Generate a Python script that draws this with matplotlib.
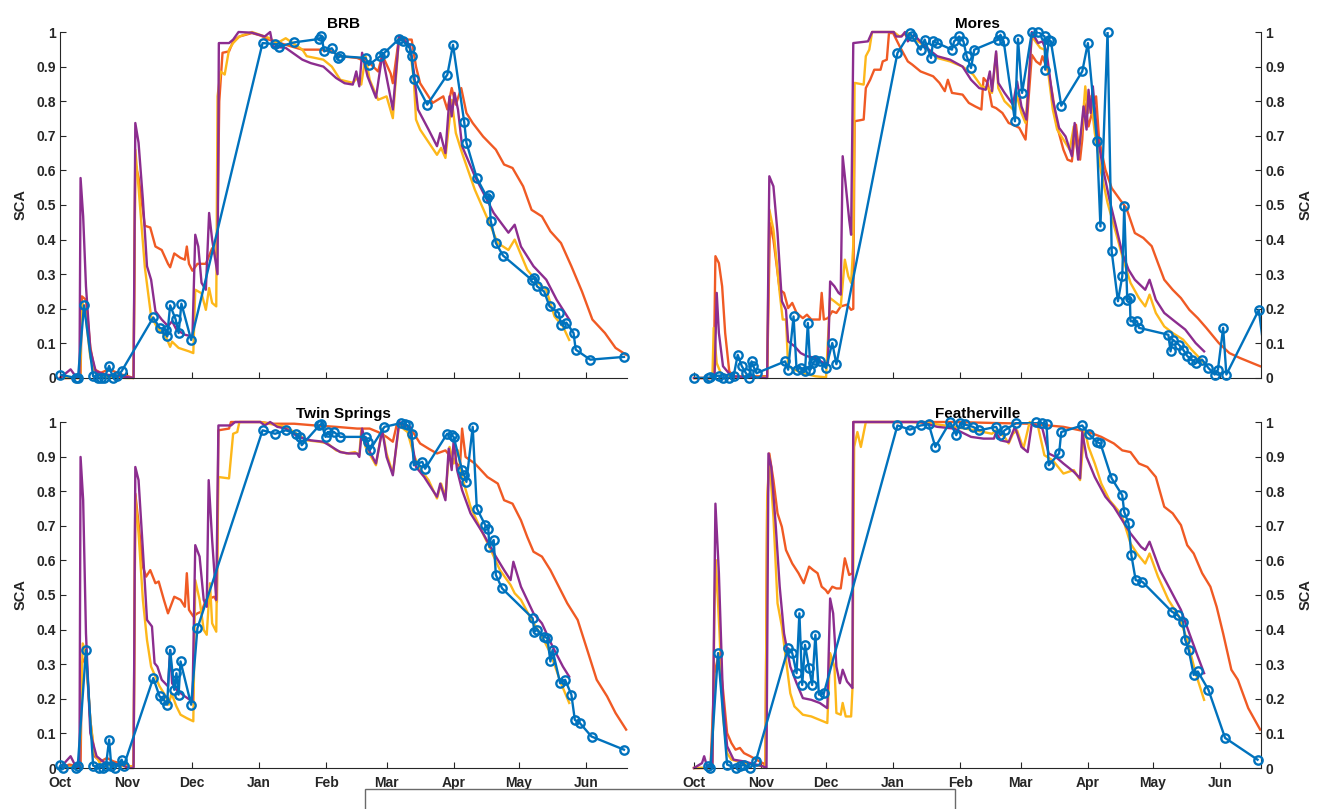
"""
Snow covered area (SCA) for four sites, observed vs. three model runs.
Days are counted from 1 October (water-year day).
"""

import matplotlib

matplotlib.use("Agg")
import matplotlib.pyplot as plt
import numpy as np
from matplotlib.patches import Rectangle

plt.rcParams["font.family"] = ["Liberation Sans", "DejaVu Sans"]

# month ticks (day of water year) and labels
month_days = [0, 31, 61, 92, 123, 151, 182, 212, 243]
month_labels = ["Oct", "Nov", "Dec", "Jan", "Feb", "Mar", "Apr", "May", "Jun"]
sca_ticks = [0, 0.1, 0.2, 0.3, 0.4, 0.5, 0.6, 0.7, 0.8, 0.9, 1.0]
sca_tick_labels = ["0", "0.1", "0.2", "0.3", "0.4", "0.5", "0.6", "0.7", "0.8", "0.9", "1"]

site_names = ["BRB", "Mores", "Twin Springs", "Featherville"]

# ---- BRB ----
brb_obs = [(0, 0.01), (7.2, 0.0), (8.3, 0.0), (11.1, 0.21), (15.3, 0.005), (17.5, 0.0), (19.0, 0.0),
           (20.5, 0.0), (22.7, 0.035), (24.5, 0.0), (26.5, 0.005), (28.5, 0.02), (43.1, 0.175),
           (46.0, 0.145), (48.9, 0.14), (49.5, 0.12), (50.9, 0.21), (53.4, 0.17), (54.8, 0.13),
           (56.1, 0.215), (60.6, 0.11), (93.6, 0.968), (99.4, 0.965), (101.4, 0.958), (108.2, 0.97),
           (119.8, 0.98), (120.8, 0.987), (122.1, 0.944), (125.6, 0.953), (128.5, 0.925), (129.5, 0.93),
           (141.2, 0.925), (142.7, 0.905), (148.0, 0.93), (149.9, 0.94), (156.7, 0.98), (158.6, 0.973),
           (161.6, 0.954), (162.5, 0.93), (163.5, 0.864), (169.7, 0.79), (179.0, 0.877), (181.6, 0.963),
           (186.8, 0.739), (187.8, 0.68), (192.6, 0.578), (197.5, 0.52), (198.4, 0.53), (199.0, 0.455),
           (201.4, 0.39), (204.7, 0.354), (217.9, 0.284), (219.2, 0.29), (220.4, 0.265), (223.7, 0.25),
           (226.2, 0.207), (230.5, 0.188), (231.5, 0.154), (234.0, 0.16), (237.3, 0.13), (238.3, 0.082),
           (245.0, 0.053), (260.6, 0.061)]
brb_orange = [(0, 0), (8.2, 0), (9.5, 0.0), (10.1, 0.236), (12.0, 0.226), (14.0, 0.09), (15.9, 0.025),
              (18.8, 0.015), (22.7, 0.025), (28.5, 0.01), (31.5, 0.005), (34.0, 0.0), (34.8, 0.62),
              (36.3, 0.58), (39.2, 0.44), (41.7, 0.435), (44.1, 0.38), (47.0, 0.37), (49.9, 0.33),
              (50.9, 0.32), (52.8, 0.36), (55.7, 0.347), (57.7, 0.342), (58.6, 0.38), (59.6, 0.33),
              (61.2, 0.31), (63.5, 0.33), (67.4, 0.33), (70.3, 0.375), (72.2, 0.35), (72.8, 0.45),
              (73.6, 0.8), (75.1, 0.94), (78.1, 0.944), (80.0, 0.973), (82.9, 0.987), (88.7, 0.997),
              (92.6, 0.99), (96.5, 0.978), (104.3, 0.963), (112.0, 0.949), (119.8, 0.949), (125.6, 0.944),
              (129.5, 0.93), (137.3, 0.925), (143.1, 0.91), (147.0, 0.886), (148.9, 0.934), (152.8, 0.88),
              (153.8, 0.852), (156.7, 0.987), (160.6, 0.978), (162.5, 0.978), (164.5, 0.9), (166.4, 0.852),
              (172.2, 0.795), (177.1, 0.814), (179.0, 0.776), (181.0, 0.838), (182.9, 0.79), (185.4, 0.838),
              (187.8, 0.766), (190.7, 0.737), (195.5, 0.698), (201.4, 0.66), (205.2, 0.617), (209.1, 0.607),
              (214.0, 0.554), (217.9, 0.486), (222.7, 0.467), (226.6, 0.424), (231.5, 0.39), (236.3, 0.323),
              (241.2, 0.25), (246.0, 0.169), (251.8, 0.13), (256.7, 0.087), (261.6, 0.067)]
brb_yellow = [(0, 0), (9.3, 0), (10.1, 0.22), (11.5, 0.2), (14.0, 0.06), (15.9, 0.02), (18.8, 0.005),
              (30.5, 0.0), (34.0, 0.0), (34.8, 0.66), (36.3, 0.55), (39.2, 0.32), (42.1, 0.178), (45.0, 0.145),
              (48.9, 0.12), (50.9, 0.09), (51.8, 0.105), (54.8, 0.087), (59.6, 0.077), (61.6, 0.072),
              (62.5, 0.255), (65.4, 0.245), (67.4, 0.197), (68.9, 0.26), (70.3, 0.217), (72.2, 0.207),
              (72.8, 0.814), (74.2, 0.886), (76.1, 0.877), (78.1, 0.949), (80.0, 0.968), (82.9, 0.987),
              (88.7, 1.0), (96.5, 0.983), (100.4, 0.968), (104.3, 0.982), (112.0, 0.949), (114.0, 0.93),
              (121.7, 0.92), (125.6, 0.9), (129.5, 0.862), (135.3, 0.853), (137.3, 0.867), (139.2, 0.848),
              (141.2, 0.93), (143.1, 0.862), (147.0, 0.804), (150.9, 0.814), (153.8, 0.751), (156.7, 0.987),
              (161.6, 0.958), (163.5, 0.862), (164.5, 0.747), (166.4, 0.718), (174.2, 0.645), (176.1, 0.665),
              (178.1, 0.636), (181.0, 0.804), (182.9, 0.708), (185.8, 0.65), (191.7, 0.544), (198.4, 0.448),
              (202.3, 0.39), (207.2, 0.37), (210.1, 0.4), (215.9, 0.313), (220.8, 0.275), (224.7, 0.255),
              (228.5, 0.178), (232.4, 0.149), (235.3, 0.11)]
brb_purple = [(0, 0), (4.9, 0.025), (7.2, 0.005), (9.0, 0.0), (9.5, 0.578), (10.7, 0.467), (12.0, 0.265),
              (14.0, 0.082), (16.5, 0.02), (20.8, 0.01), (30.5, 0.003), (34.0, 0.0), (34.8, 0.737),
              (36.3, 0.68), (38.3, 0.515), (40.2, 0.323), (42.1, 0.284), (44.1, 0.193), (47.0, 0.169),
              (49.9, 0.15), (51.8, 0.164), (53.8, 0.14), (57.7, 0.125), (61.2, 0.12), (62.5, 0.414),
              (63.9, 0.38), (65.4, 0.275), (67.4, 0.255), (68.9, 0.477), (70.3, 0.4), (72.8, 0.3),
              (73.4, 0.968), (78.1, 0.968), (80.0, 0.978), (82.5, 1.0), (88.7, 0.998), (94.6, 0.987),
              (97.1, 1.0), (98.4, 0.958), (104.3, 0.954), (112.0, 0.92), (115.9, 0.91), (121.7, 0.9),
              (127.6, 0.867), (131.5, 0.852), (135.3, 0.848), (136.9, 0.886), (138.3, 0.843), (139.6, 0.94),
              (142.1, 0.872), (146.0, 0.81), (148.9, 0.934), (153.8, 0.776), (156.7, 0.987), (161.6, 0.963),
              (163.5, 0.886), (165.4, 0.776), (170.3, 0.718), (174.2, 0.67), (175.7, 0.708), (178.1, 0.65),
              (180.0, 0.814), (181.0, 0.756), (182.3, 0.824), (183.9, 0.776), (185.8, 0.67), (191.7, 0.583),
              (200.4, 0.477), (207.2, 0.42), (210.1, 0.443), (213.0, 0.38), (218.8, 0.323), (224.7, 0.284),
              (229.5, 0.226), (235.3, 0.169)]

# ---- Mores ----
mores_obs = [(0, 0.0), (6.6, 0.0), (7.6, 0.002), (11.5, 0.007), (13.4, 0.0), (16.3, 0.0), (18.3, 0.005),
             (20.2, 0.067), (22.1, 0.034), (24.0, 0.014), (25.4, 0.0), (26.6, 0.048), (27.4, 0.034),
             (28.9, 0.014), (42.1, 0.048), (43.5, 0.024), (46.0, 0.178), (47.4, 0.024), (49.3, 0.029),
             (51.3, 0.019), (52.6, 0.159), (53.8, 0.024), (55.1, 0.043), (56.1, 0.053), (58.1, 0.048),
             (61.0, 0.029), (63.9, 0.101), (65.8, 0.04), (94.0, 0.939), (99.8, 0.997), (100.8, 0.987),
             (104.7, 0.949), (106.6, 0.978), (109.5, 0.925), (110.5, 0.973), (112.4, 0.968), (119.2, 0.949),
             (120.2, 0.973), (122.5, 0.987), (124.5, 0.973), (126.0, 0.93), (128.0, 0.896), (129.5, 0.949),
             (140.6, 0.978), (141.6, 0.992), (143.1, 0.973), (148.3, 0.742), (149.7, 0.98), (151.6, 0.824),
             (156.1, 0.999), (159.0, 1.0), (162.0, 0.987), (162.3, 0.891), (164.0, 0.978), (164.9, 0.973),
             (169.7, 0.787), (179.4, 0.886), (182.0, 0.968), (186.2, 0.684), (187.8, 0.438), (191.1, 1.0),
             (193.0, 0.366), (195.9, 0.222), (197.9, 0.294), (198.8, 0.496), (200.2, 0.226), (201.4, 0.231),
             (201.7, 0.164), (204.7, 0.164), (205.6, 0.145), (219.2, 0.125), (220.2, 0.077), (221.2, 0.111),
             (224.1, 0.096), (226.0, 0.082), (228.0, 0.063), (229.9, 0.053), (231.8, 0.043), (234.8, 0.053),
             (237.7, 0.029), (240.6, 0.01), (242.1, 0.024), (244.5, 0.145), (246.0, 0.01), (261.0, 0.197),
             (265.0, 0.0)]
mores_orange = [(0, 0), (9.1, 0), (9.9, 0.352), (11.5, 0.332), (13.0, 0.265), (14.4, 0.13), (16.3, 0.019),
                (18.3, 0.005), (33.8, 0.005), (35.1, 0.448), (36.7, 0.4), (39.6, 0.255), (41.6, 0.246),
                (43.5, 0.202), (45.4, 0.217), (47.4, 0.188), (50.3, 0.173), (52.2, 0.183), (54.2, 0.169),
                (58.1, 0.169), (59.0, 0.246), (60.0, 0.169), (61.9, 0.173), (63.9, 0.193), (65.8, 0.188),
                (67.8, 0.207), (70.7, 0.212), (72.6, 0.197), (73.6, 0.2), (74.2, 0.742), (78.4, 0.747),
                (79.4, 0.838), (81.4, 0.862), (83.3, 0.891), (86.2, 0.891), (87.2, 0.915), (89.1, 0.92),
                (90.1, 0.997), (92.0, 0.997), (95.0, 0.959), (98.8, 0.915), (100.8, 0.906), (104.7, 0.886),
                (110.5, 0.872), (113.4, 0.853), (115.9, 0.829), (117.3, 0.862), (119.2, 0.824), (124.1, 0.819),
                (127.0, 0.795), (129.9, 0.785), (132.8, 0.776), (133.8, 0.867), (135.7, 0.853), (137.7, 0.785),
                (139.6, 0.78), (142.5, 0.766), (145.4, 0.737), (147.4, 0.732), (150.3, 0.723), (153.2, 0.689),
                (156.1, 0.934), (158.1, 0.915), (160.0, 0.906), (161.0, 0.93), (163.9, 0.882), (165.8, 0.814),
                (167.8, 0.727), (170.7, 0.66), (172.6, 0.631), (174.6, 0.626), (176.5, 0.732), (178.4, 0.631),
                (179.4, 0.689), (180.4, 0.795), (182.3, 0.727), (185.8, 0.814), (187.2, 0.689), (190.1, 0.602),
                (193.0, 0.549), (196.9, 0.515), (199.8, 0.491), (203.7, 0.419), (207.6, 0.405), (211.5, 0.381),
                (214.4, 0.332), (217.3, 0.284), (221.2, 0.255), (225.0, 0.231), (228.9, 0.197), (232.8, 0.173),
                (236.7, 0.145), (242.5, 0.101), (247.4, 0.072), (252.2, 0.058), (256.1, 0.048), (261.6, 0.034)]
mores_yellow = [(0, 0), (8.5, 0), (9.1, 0.145), (10.5, 0.043), (12.4, 0.014), (15.5, 0.005), (33.8, 0.002),
                (34.8, 0.487), (36.7, 0.429), (39.6, 0.246), (41.0, 0.169), (42.5, 0.169), (43.5, 0.034),
                (46.4, 0.024), (50.3, 0.014), (56.1, 0.005), (61.0, 0.002), (62.9, 0.231), (65.8, 0.217),
                (67.8, 0.207), (69.7, 0.342), (71.3, 0.294), (72.6, 0.275), (73.6, 0.385), (74.2, 0.853),
                (78.4, 0.848), (79.4, 0.93), (81.0, 0.949), (82.3, 1.0), (92.3, 1.0), (95.0, 0.987),
                (98.8, 0.997), (100.8, 0.983), (104.7, 0.968), (112.4, 0.925), (118.3, 0.915), (124.1, 0.9),
                (129.0, 0.877), (132.8, 0.843), (135.7, 0.838), (137.7, 0.824), (139.6, 0.939), (140.6, 0.838),
                (143.5, 0.8), (147.4, 0.776), (149.3, 0.814), (151.3, 0.766), (153.2, 0.737), (156.1, 0.987),
                (160.0, 0.954), (162.0, 0.949), (163.9, 0.872), (165.8, 0.776), (167.8, 0.718), (170.7, 0.689),
                (173.6, 0.66), (175.5, 0.727), (177.5, 0.641), (179.4, 0.727), (180.8, 0.843), (182.0, 0.766),
                (183.3, 0.814), (185.2, 0.708), (188.2, 0.592), (191.1, 0.506), (195.0, 0.419), (197.9, 0.352),
                (201.7, 0.275), (205.6, 0.231), (208.5, 0.207), (210.5, 0.241), (213.4, 0.188), (217.3, 0.149),
                (221.2, 0.13), (226.0, 0.111), (229.9, 0.082), (232.8, 0.063), (235.7, 0.043)]
mores_purple = [(0, 0), (9.5, 0), (10.5, 0.246), (11.5, 0.13), (13.4, 0.034), (17.3, 0.005), (33.8, 0.0),
                (34.8, 0.583), (36.7, 0.554), (38.6, 0.419), (40.6, 0.222), (42.5, 0.197), (43.5, 0.106),
                (46.4, 0.092), (49.3, 0.072), (52.2, 0.063), (56.1, 0.058), (60.0, 0.043), (61.9, 0.043),
                (62.9, 0.279), (64.9, 0.265), (66.8, 0.246), (67.8, 0.241), (68.7, 0.641), (69.7, 0.583),
                (71.7, 0.458), (72.6, 0.414), (73.6, 0.968), (80.4, 0.973), (82.3, 1.0), (92.3, 1.0),
                (93.4, 0.987), (95.9, 0.987), (97.5, 1.0), (98.8, 0.973), (101.7, 0.992), (106.6, 0.959),
                (112.4, 0.93), (118.3, 0.92), (124.1, 0.9), (128.0, 0.862), (131.8, 0.838), (134.8, 0.833),
                (136.7, 0.886), (137.7, 0.829), (139.6, 0.944), (140.6, 0.853), (143.5, 0.824), (147.4, 0.79),
                (149.3, 0.857), (151.3, 0.785), (153.6, 0.747), (156.1, 1.0), (159.0, 0.968), (161.0, 0.973),
                (162.9, 0.944), (165.8, 0.804), (168.7, 0.723), (171.7, 0.698), (174.6, 0.641), (175.9, 0.737),
                (177.5, 0.631), (180.0, 0.785), (181.4, 0.718), (182.3, 0.833), (183.3, 0.766), (184.3, 0.843),
                (186.2, 0.708), (189.1, 0.602), (192.0, 0.515), (195.0, 0.438), (197.9, 0.361), (200.8, 0.313),
                (203.7, 0.284), (208.5, 0.255), (210.5, 0.284), (213.4, 0.226), (217.3, 0.188), (222.1, 0.164),
                (227.0, 0.14), (231.8, 0.101), (235.7, 0.077)]

# ---- Twin Springs ----
ts_obs = [(0, 0.01), (1.4, 0.0), (7.2, 0.0), (8.2, 0.005), (12.0, 0.341), (15.3, 0.007), (17.9, 0.0),
          (19.8, 0.0), (21.2, 0.005), (22.7, 0.082), (23.7, 0.005), (25.6, 0.0), (28.5, 0.024), (29.5, 0.007),
          (43.1, 0.26), (46.0, 0.207), (48.0, 0.197), (49.5, 0.183), (50.9, 0.341), (52.8, 0.226),
          (53.8, 0.274), (54.8, 0.212), (55.7, 0.308), (60.6, 0.183), (63.5, 0.404), (93.6, 0.976),
          (99.4, 0.966), (104.3, 0.976), (109.1, 0.966), (110.7, 0.957), (111.7, 0.933), (119.8, 0.99),
          (120.8, 0.995), (122.7, 0.957), (123.7, 0.971), (126.6, 0.971), (129.5, 0.957), (141.2, 0.957),
          (142.1, 0.943), (143.1, 0.918), (149.9, 0.986), (157.7, 0.997), (159.6, 0.995), (160.6, 0.99),
          (162.5, 0.966), (163.5, 0.875), (167.4, 0.885), (168.7, 0.865), (178.9, 0.966), (181.0, 0.962),
          (181.9, 0.957), (185.8, 0.861), (186.8, 0.846), (187.8, 0.827), (190.7, 0.986), (192.6, 0.75),
          (196.5, 0.702), (197.9, 0.692), (198.4, 0.639), (200.4, 0.659), (201.4, 0.558), (204.3, 0.519),
          (218.4, 0.433), (219.2, 0.394), (220.4, 0.399), (223.7, 0.38), (225.2, 0.375), (226.6, 0.308),
          (227.6, 0.341), (231.1, 0.245), (233.4, 0.255), (236.3, 0.212), (237.9, 0.139), (240.2, 0.13),
          (245.6, 0.091), (260.6, 0.053)]
ts_orange = [(0, 0), (4.3, 0.01), (8.2, 0.005), (9.5, 0.0), (10.1, 0.303), (12.0, 0.322), (14.0, 0.139),
             (15.9, 0.034), (18.8, 0.019), (21.7, 0.029), (24.7, 0.019), (27.6, 0.014), (30.5, 0.01),
             (32.4, 0.005), (34.0, 0.005), (34.8, 0.793), (36.3, 0.707), (38.3, 0.582), (39.8, 0.553),
             (41.7, 0.572), (44.1, 0.534), (45.6, 0.539), (48.0, 0.486), (49.9, 0.447), (52.8, 0.495),
             (55.7, 0.486), (57.7, 0.466), (58.6, 0.563), (59.6, 0.457), (61.6, 0.438), (63.5, 0.447),
             (65.4, 0.452), (67.4, 0.486), (71.3, 0.495), (72.5, 0.48), (73.2, 0.976), (78.1, 0.981),
             (79.0, 1.0), (92.6, 1.0), (98.4, 0.995), (108.2, 0.995), (117.9, 0.99), (127.6, 0.986),
             (137.3, 0.981), (143.1, 0.981), (147.0, 0.971), (150.9, 0.957), (153.8, 0.943), (155.7, 0.995),
             (161.6, 0.986), (164.5, 0.957), (166.4, 0.938), (170.3, 0.923), (174.2, 0.909), (178.1, 0.918),
             (181.9, 0.889), (184.8, 0.87), (185.8, 0.981), (187.4, 0.899), (191.7, 0.88), (197.5, 0.841),
             (202.3, 0.822), (205.2, 0.774), (209.1, 0.764), (213.0, 0.716), (215.9, 0.668), (218.8, 0.625),
             (222.7, 0.611), (224.7, 0.591), (226.6, 0.572), (230.5, 0.524), (234.4, 0.476), (239.2, 0.428),
             (244.1, 0.332), (248.0, 0.255), (252.8, 0.207), (256.7, 0.159), (261.6, 0.111)]
ts_yellow = [(0, 0), (9.0, 0.005), (10.5, 0.36), (12.0, 0.332), (14.0, 0.139), (15.9, 0.043), (18.8, 0.01),
             (30.5, 0.005), (34.0, 0.005), (34.8, 0.784), (36.3, 0.678), (38.3, 0.486), (40.2, 0.37),
             (42.1, 0.293), (44.1, 0.264), (46.0, 0.236), (48.9, 0.207), (50.3, 0.183), (51.5, 0.216),
             (53.8, 0.178), (55.7, 0.154), (58.6, 0.144), (61.6, 0.135), (62.5, 0.543), (64.5, 0.486),
             (66.4, 0.399), (67.8, 0.385), (69.3, 0.534), (70.3, 0.418), (72.2, 0.394), (73.2, 0.841),
             (78.1, 0.837), (80.0, 0.966), (81.9, 0.971), (82.9, 1.0), (92.6, 1.0), (96.5, 0.995),
             (104.3, 0.986), (108.2, 0.971), (114.0, 0.947), (119.8, 0.943), (123.7, 0.938), (127.6, 0.918),
             (132.4, 0.909), (136.3, 0.913), (138.3, 0.904), (139.2, 0.976), (141.2, 0.928), (146.0, 0.875),
             (148.9, 0.981), (150.9, 0.909), (153.8, 0.851), (156.7, 0.99), (160.6, 0.971), (163.5, 0.904),
             (166.4, 0.865), (170.3, 0.832), (174.2, 0.779), (176.1, 0.822), (178.1, 0.784), (180.0, 0.928),
             (181.9, 0.88), (183.9, 0.918), (185.8, 0.841), (189.7, 0.755), (194.6, 0.688), (198.4, 0.639),
             (203.3, 0.572), (208.2, 0.529), (210.1, 0.505), (213.0, 0.486), (217.9, 0.428), (222.7, 0.38),
             (226.6, 0.332), (231.5, 0.245), (235.3, 0.188)]
ts_purple = [(0, 0), (4.9, 0.034), (7.2, 0.005), (9.0, 0.0), (9.5, 0.899), (10.7, 0.774), (12.0, 0.389),
             (14.0, 0.101), (16.9, 0.034), (20.8, 0.014), (28.5, 0.01), (31.5, 0.0), (34.0, 0.0),
             (34.8, 0.87), (36.3, 0.832), (38.3, 0.63), (40.2, 0.428), (42.5, 0.409), (43.7, 0.303),
             (45.0, 0.293), (47.0, 0.255), (49.9, 0.236), (50.9, 0.341), (51.8, 0.245), (53.8, 0.226),
             (57.7, 0.207), (61.2, 0.192), (62.5, 0.644), (64.5, 0.611), (66.4, 0.486), (67.8, 0.466),
             (68.7, 0.832), (70.3, 0.659), (72.2, 0.486), (73.2, 0.99), (79.0, 0.99), (80.9, 1.0),
             (92.6, 1.0), (94.6, 0.99), (97.1, 1.0), (100.4, 0.986), (104.3, 0.981), (110.1, 0.957),
             (115.9, 0.947), (121.7, 0.943), (125.6, 0.928), (129.5, 0.913), (133.4, 0.909), (137.3, 0.909),
             (138.3, 0.899), (139.6, 0.981), (141.2, 0.938), (146.0, 0.88), (148.9, 0.976), (150.9, 0.899),
             (153.8, 0.846), (156.7, 1.0), (161.6, 0.986), (164.5, 0.87), (168.3, 0.841), (172.2, 0.803),
             (174.2, 0.784), (175.7, 0.822), (178.1, 0.774), (179.6, 0.923), (181.0, 0.861), (181.9, 0.947),
             (183.5, 0.861), (185.8, 0.803), (189.7, 0.736), (195.5, 0.678), (201.4, 0.611), (205.2, 0.572),
             (208.2, 0.543), (209.5, 0.596), (213.0, 0.524), (218.8, 0.447), (222.7, 0.418), (227.6, 0.351),
             (232.4, 0.293), (235.3, 0.264)]

# ---- Featherville ----
fv_obs = [(6.6, 0.005), (7.6, 0.0), (11.1, 0.332), (15.3, 0.01), (19.2, 0.0), (21.2, 0.005), (23.1, 0.01),
          (26.0, 0.0), (28.5, 0.019), (43.5, 0.346), (45.4, 0.332), (47.4, 0.274), (48.7, 0.447), (50.0, 0.24),
          (51.3, 0.356), (53.2, 0.288), (54.6, 0.24), (56.1, 0.385), (57.7, 0.212), (60.0, 0.216),
          (94.0, 0.99), (99.8, 0.978), (104.7, 0.99), (108.5, 0.993), (111.5, 0.928), (118.3, 1.0),
          (121.2, 0.962), (123.1, 0.997), (125.0, 0.993), (128.9, 0.986), (131.8, 0.976), (139.6, 0.986),
          (141.6, 0.962), (143.5, 0.976), (148.9, 0.997), (158.1, 1.0), (161.0, 0.997), (162.9, 0.993),
          (163.9, 0.875), (168.7, 0.909), (169.7, 0.971), (179.4, 0.99), (182.3, 0.966), (186.2, 0.942),
          (187.8, 0.938), (193.0, 0.837), (197.9, 0.788), (198.8, 0.74), (200.8, 0.707), (202.1, 0.615),
          (204.1, 0.543), (207.2, 0.538), (220.8, 0.452), (223.5, 0.442), (226.0, 0.423), (227.0, 0.37),
          (228.6, 0.341), (230.9, 0.269), (232.8, 0.279), (237.7, 0.226), (245.4, 0.087), (260.4, 0.024)]
fv_orange = [(0, 0), (7.6, 0.0), (9.5, 0.274), (11.5, 0.332), (13.4, 0.226), (15.3, 0.101), (17.3, 0.072),
             (19.2, 0.053), (21.2, 0.058), (23.1, 0.043), (26.0, 0.034), (28.9, 0.024), (31.8, 0.014),
             (33.0, 0.01), (33.8, 0.745), (34.8, 0.909), (36.7, 0.832), (38.6, 0.736), (40.6, 0.697),
             (42.5, 0.63), (45.4, 0.591), (48.3, 0.563), (50.7, 0.534), (53.2, 0.582), (55.1, 0.572),
             (57.1, 0.563), (59.0, 0.524), (60.9, 0.514), (61.9, 0.505), (63.9, 0.524), (65.8, 0.519),
             (67.8, 0.519), (69.7, 0.606), (71.7, 0.558), (73.2, 0.563), (73.6, 1.0), (120.0, 1.0),
             (139.6, 0.997), (155.1, 0.995), (170.7, 0.986), (178.4, 0.976), (182.3, 0.971), (188.2, 0.957),
             (194.0, 0.938), (197.9, 0.918), (201.7, 0.913), (205.6, 0.88), (209.5, 0.87), (213.4, 0.841),
             (217.3, 0.755), (221.2, 0.736), (225.0, 0.702), (227.9, 0.644), (230.9, 0.62), (234.8, 0.563),
             (238.6, 0.524), (241.5, 0.466), (244.5, 0.389), (248.3, 0.284), (251.3, 0.255), (256.1, 0.173),
             (261.6, 0.111)]
fv_yellow = [(0, 0), (8.5, 0.0), (9.5, 0.466), (10.1, 0.601), (11.8, 0.389), (13.4, 0.149), (15.3, 0.043),
             (17.3, 0.024), (23.1, 0.014), (31.8, 0.005), (33.0, 0.005), (33.8, 0.774), (34.8, 0.899),
             (36.7, 0.726), (38.6, 0.476), (40.6, 0.409), (42.5, 0.313), (44.5, 0.216), (46.4, 0.178),
             (50.3, 0.154), (54.2, 0.149), (58.1, 0.139), (61.6, 0.13), (62.9, 0.332), (64.9, 0.293),
             (65.8, 0.159), (67.8, 0.154), (68.7, 0.188), (70.1, 0.149), (72.6, 0.149), (73.2, 0.226),
             (74.0, 0.928), (75.5, 0.971), (77.1, 0.928), (79.4, 1.0), (100.8, 1.0), (110.5, 0.995),
             (120.2, 0.986), (129.9, 0.976), (137.7, 0.966), (139.6, 0.976), (143.5, 0.957), (145.4, 0.938),
             (147.4, 0.966), (149.3, 0.976), (152.2, 0.923), (155.1, 1.0), (159.0, 0.986), (161.9, 0.904),
             (165.8, 0.889), (170.7, 0.851), (175.5, 0.861), (178.4, 0.832), (180.4, 0.981), (182.3, 0.928),
             (185.2, 0.88), (188.2, 0.822), (192.0, 0.774), (195.9, 0.745), (197.9, 0.726), (201.7, 0.649),
             (204.7, 0.62), (208.5, 0.591), (210.5, 0.62), (214.4, 0.553), (219.2, 0.486), (224.1, 0.438),
             (227.9, 0.37), (231.8, 0.274), (235.7, 0.197)]
fv_purple = [(0, 0), (3.7, 0.014), (4.7, 0.034), (6.0, 0.005), (8.5, 0.0), (9.9, 0.764), (11.5, 0.563),
             (13.4, 0.197), (15.3, 0.063), (18.3, 0.024), (23.1, 0.019), (31.8, 0.005), (33.5, 0.0),
             (34.4, 0.909), (35.7, 0.87), (37.7, 0.707), (39.6, 0.524), (41.6, 0.389), (44.5, 0.293),
             (47.4, 0.245), (50.3, 0.202), (54.2, 0.197), (58.1, 0.188), (61.6, 0.173), (62.9, 0.49),
             (64.3, 0.447), (65.8, 0.293), (67.4, 0.245), (68.7, 0.284), (70.7, 0.25), (72.6, 0.236),
             (73.2, 0.231), (73.6, 1.0), (104.7, 1.0), (112.4, 0.986), (120.2, 0.981), (128.0, 0.957),
             (133.8, 0.952), (138.6, 0.952), (139.6, 0.971), (141.6, 0.947), (145.4, 0.942), (148.3, 0.986),
             (151.3, 0.928), (154.2, 0.913), (156.1, 0.995), (161.0, 0.981), (163.9, 0.909), (167.2, 0.899),
             (170.7, 0.88), (175.5, 0.856), (178.4, 0.837), (179.4, 0.971), (181.4, 0.899), (185.2, 0.841),
             (190.1, 0.784), (194.0, 0.755), (197.9, 0.716), (201.7, 0.678), (206.6, 0.639), (208.5, 0.63),
             (210.5, 0.654), (215.3, 0.572), (220.2, 0.514), (225.0, 0.457), (228.9, 0.389), (232.8, 0.322),
             (235.7, 0.274)]

OBS_COLOR = "#0072BD"
MODEL_COLORS = ["#F05A24", "#FDB71A", "#8C2D8F"]
AXIS_COLOR = "#262626"
X_MAX = 262

panels = [
    (brb_obs, [brb_orange, brb_yellow, brb_purple]),
    (mores_obs, [mores_orange, mores_yellow, mores_purple]),
    (ts_obs, [ts_orange, ts_yellow, ts_purple]),
    (fv_obs, [fv_orange, fv_yellow, fv_purple]),
]

# axes rectangles in pixels (left, top) of a 1319 x 809 canvas
W, H = 1319, 809
AX_W, AX_H = 567, 346
ax_origins = [(60, 32), (694, 32), (60, 422), (694, 422)]


def draw_panel(ax, name, obs, models, right_side, bottom_row):
    for series, color in zip(models, MODEL_COLORS):
        d, v = np.array(series).T
        ax.plot(d, v, color=color, linewidth=1.7, clip_on=False, zorder=2)

    d, v = np.array(obs).T
    ax.plot(d, v, color=OBS_COLOR, linewidth=1.7, zorder=3)
    inside = d <= X_MAX
    ax.plot(d[inside], v[inside], linestyle="none", marker="o", markersize=6,
            markerfacecolor="none", markeredgecolor=OBS_COLOR, markeredgewidth=1.7,
            clip_on=False, zorder=4)

    ax.set_xlim(0, X_MAX)
    ax.set_ylim(0, 1)
    ax.set_xticks(month_days)
    ax.set_yticks(sca_ticks)
    ax.set_yticklabels(sca_tick_labels)
    if bottom_row:
        ax.set_xticklabels(month_labels)
    else:
        ax.set_xticklabels([])

    ax.spines["top"].set_visible(False)
    if right_side:
        ax.spines["left"].set_visible(False)
        ax.yaxis.tick_right()
        ax.yaxis.set_label_position("right")
        ax.set_ylabel("SCA", fontsize=10.5, fontweight="bold", color=AXIS_COLOR, rotation=90)
        ax.yaxis.set_label_coords(1.066, 0.5)
    else:
        ax.spines["right"].set_visible(False)
        ax.set_ylabel("SCA", fontsize=10.5, fontweight="bold", color=AXIS_COLOR)
        ax.yaxis.set_label_coords(-0.058, 0.5)
    for sp in ax.spines.values():
        sp.set_color(AXIS_COLOR)
        sp.set_linewidth(0.8)

    ax.tick_params(axis="both", direction="in", length=4.5, width=0.8, color=AXIS_COLOR,
                   labelcolor=AXIS_COLOR, labelsize=10)
    ax.tick_params(axis="y", pad=3)
    ax.tick_params(axis="x", pad=6)
    for lab in ax.get_xticklabels() + ax.get_yticklabels():
        lab.set_fontweight("bold")

    ax.set_title(name, fontsize=11, fontweight="bold", color="black", pad=3)


fig = plt.figure(figsize=(W / 100, H / 100), dpi=100)
for i, (name, (obs, models)) in enumerate(zip(site_names, panels)):
    left, top = ax_origins[i]
    ax = fig.add_axes([left / W, 1 - (top + AX_H) / H, AX_W / W, AX_H / H])
    draw_panel(ax, name, obs, models, right_side=(i % 2 == 1), bottom_row=(i >= 2))

# legend frame, mostly below the canvas edge
fig.add_artist(Rectangle((365 / W, -0.05), 590 / W, (H - 789) / H + 0.05,
                         transform=fig.transFigure, fill=False, edgecolor="#6a6a6a",
                         linewidth=1.0, clip_on=False))

fig.savefig("out.png", dpi=100)
